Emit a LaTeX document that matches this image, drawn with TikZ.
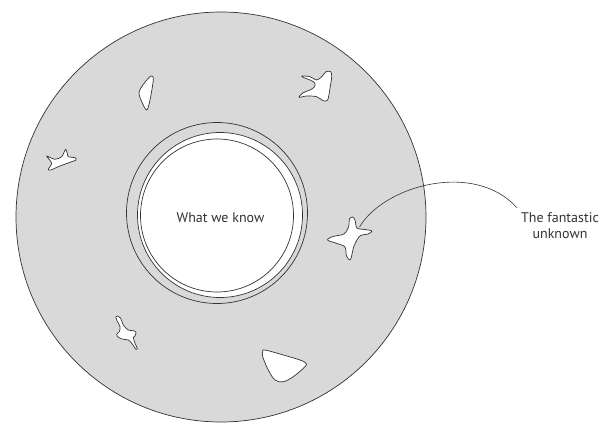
\documentclass[tikz,border=0pt]{standalone}
\usepackage{fontspec}
\setmainfont{PT Sans}
\definecolor{ringgray}{RGB}{217,217,217}
\definecolor{inkgray}{RGB}{51,51,51}
\begin{document}
\begin{tikzpicture}[x=1pt, y=-1pt, line cap=round, line join=round,
    edge/.style={draw=inkgray, line width=0.7pt},
    hole/.style={edge, fill=white},
    label/.style={text=inkgray, font=\fontsize{14}{16}\selectfont, inner sep=0pt, align=center}]
  \useasboundingbox (0,0) rectangle (600,423);
  % the unknown
  \fill[ringgray] (221,217) circle[radius=205pt];
  \draw[edge] (221,217) circle[radius=205pt];
  % rings round what we know
  \draw[edge] (217,213) circle[radius=90.5pt];
  \draw[hole] (220,215) circle[radius=82.5pt];
  \draw[edge] (217,215.5) circle[radius=76.5pt];
  \node[label] (know) at (220.5,218) {What we know};
  % holes
  \draw[hole] plot[smooth cycle, tension=0.55] coordinates {(151.7,76) (153.3,80) (150,100) (146.7,110)
    (141.7,101.7) (139,93.3) (141.7,86.7) (148.3,78.3)};
  \draw[hole] plot[smooth cycle, tension=0.5] coordinates {(301.7,76) (310,76.7) (316.7,80) (321.7,76.7)
    (326,71.7) (330.7,71.7) (331.7,76.7) (330,88.3) (327.7,100) (323.3,100.7) (316.7,96.7) (306.7,96)
    (299,97.3) (303.3,92.7) (310,90) (314,87.3) (315,83.3) (310,80) (304,77.7)};
  \draw[hole] plot[smooth cycle, tension=0.5] coordinates {(46.7,156) (55,159.3) (61.7,156.7) (64.3,151.7)
    (65.7,149.3) (67.3,153.3) (68.3,156.7) (75,157.7) (76,160) (71.7,161.7) (60,166) (50.7,170)
    (48.3,169.3) (51.7,163.3) (48.3,158.3)};
  \draw[hole] plot[smooth cycle, tension=0.55] coordinates {(352.5,217) (355,220) (357,228) (365,229.5)
    (372,231) (368,234) (360,236) (354,246) (350.5,259.5) (346.5,256) (345,247) (337,243.5)
    (327.5,240) (333,236.5) (344,234) (348.5,227) (349.5,219)};
  \draw[hole] plot[smooth cycle, tension=0.5] coordinates {(117.3,316) (120.7,318.3) (123.3,325) (128.3,330)
    (133.3,330.7) (136,332.3) (135,336) (133.3,337.3) (135,343.3) (137.3,348.3) (136,349.3)
    (131.7,343.3) (128.3,340) (123.3,339.3) (118.3,337.3) (116.7,334.3) (119.3,331.7) (120,326.7)
    (116.7,320) (116,316.7)};
  \draw[hole] plot[smooth cycle, tension=0.6] coordinates {(262.7,351.7) (265,350) (283.3,355) (300,360)
    (306,363.3) (305,366.7) (293.3,376.7) (283.3,381.7) (275,380) (268.3,370) (262.7,356.7)};
  % callout
  \coordinate (star) at (359.5,227);
  \node[label] (fant) at (560,226) {The fantastic\\unknown};
  \draw[edge, line width=0.6pt] (star) .. controls +(25,-42) and +(-42,-47) .. ([shift={(-4,-5)}]fant.north west);
\end{tikzpicture}
\end{document}
